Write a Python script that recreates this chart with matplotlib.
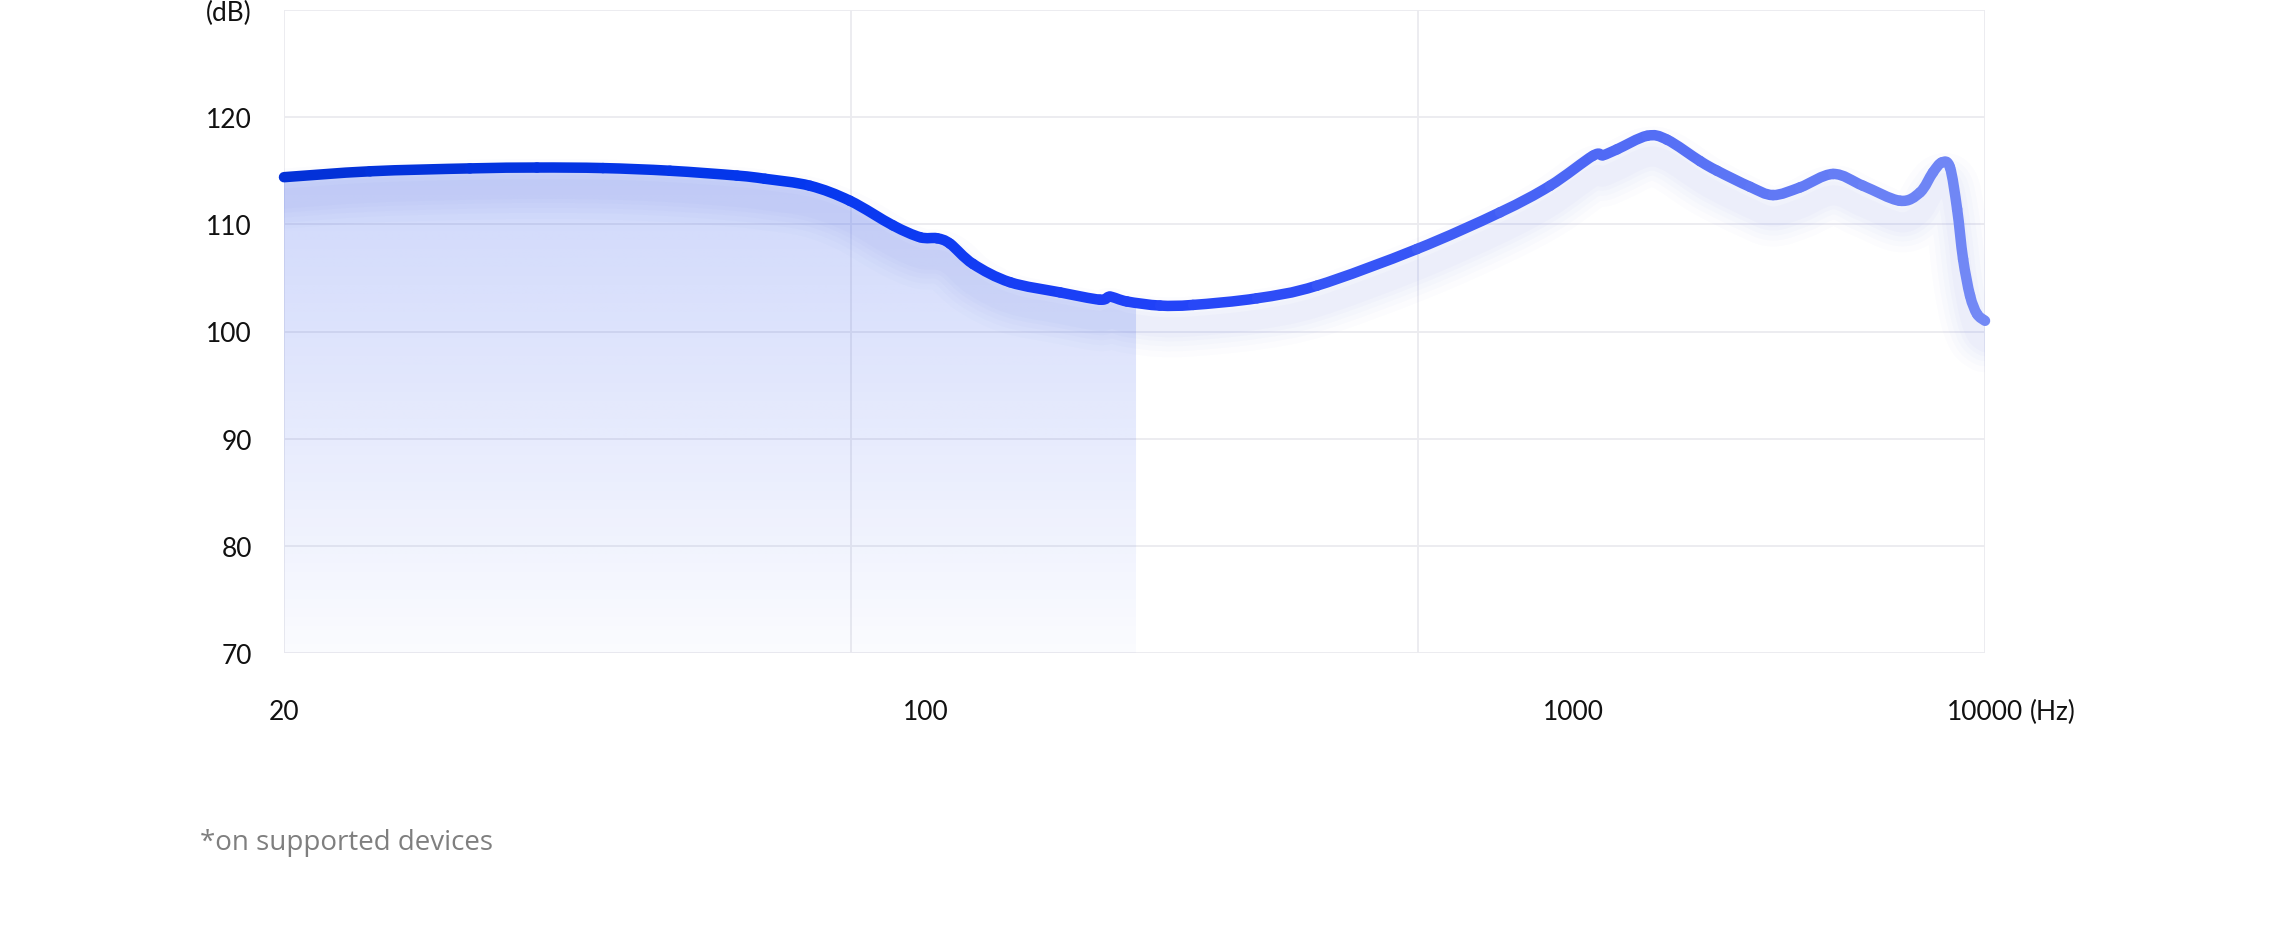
import numpy as np
import matplotlib
matplotlib.use("Agg")
import matplotlib.pyplot as plt
from matplotlib.collections import PathCollection
from matplotlib.colors import LinearSegmentedColormap, to_rgb
from matplotlib.patches import PathPatch
from matplotlib.path import Path

# ---------------- data ----------------
x_tick_positions = [0.0, 0.3774, 0.7578, 1.0]
x_tick_labels = ["20", "100", "1000", "10000"]
x_unit = "(Hz)"
y_ticks = [70, 80, 90, 100, 110, 120, 130]
y_tick_labels = ["70", "80", "90", "100", "110", "120", "(dB)"]

curve_pos = [0.000, 0.0506, 0.1093, 0.1487, 0.1875, 0.2269, 0.2663, 0.2828,
             0.3092, 0.3327, 0.3580, 0.3739, 0.3839, 0.3915, 0.4051, 0.4268,
             0.4562, 0.4797, 0.4856, 0.4956, 0.5150, 0.5344, 0.5720, 0.6073,
             0.6661, 0.7149, 0.7443, 0.7695, 0.7754, 0.7837, 0.8013, 0.8131,
             0.8325, 0.8425, 0.8619, 0.8754, 0.8913, 0.9107, 0.9283, 0.9500,
             0.9618, 0.9694, 0.9747, 0.9794, 0.9836, 0.9871, 0.9912, 0.9953,
             1.0000]
curve_db = [114.4, 114.95, 115.22, 115.3, 115.25, 115.0, 114.55, 114.25,
            113.6, 112.2, 109.9, 108.8, 108.7, 108.2, 106.3, 104.6,
            103.65, 102.97, 103.25, 102.8, 102.42, 102.48, 103.1, 104.28,
            107.7, 111.12, 113.6, 116.4, 116.45, 117.0, 118.26, 117.9,
            115.9, 115.0, 113.5, 112.73, 113.45, 114.7, 113.6, 112.2,
            112.98, 114.85, 115.78, 115.31, 111.43, 106.77, 103.35, 101.64,
            101.0]
shaded_until = 0.5009

footnote = "*on supported devices"

# ---------------- style ----------------
plt.rcParams['font.family'] = ['Lato', 'DejaVu Sans']
W, H, DPI = 2280, 928, 100
fig = plt.figure(figsize=(W / DPI, H / DPI), dpi=DPI)
fig.patch.set_facecolor('white')
ax = fig.add_axes([284 / W, 1 - 654 / H, (1985 - 284) / W, (654 - 11) / H])
ax.set_xlim(0, 1)
ax.set_ylim(70, 130)
for s in ax.spines.values():
    s.set_visible(False)

grid_color = '#ebebef'
for yv in y_ticks:
    ax.axhline(yv, color=grid_color, lw=1.3, zorder=1)
for xv in [0, 1 / 3, 2 / 3, 1]:
    ax.axvline(xv, color=grid_color, lw=1.3, zorder=1)

x = np.array(curve_pos)
y = np.array(curve_db)
P = np.column_stack([x, y])
n = len(P)


def seg_ctrl(i, pts):
    """Catmull-Rom tangents -> cubic Bezier control points for segment i."""
    p0 = pts[max(i - 1, 0)]
    p1 = pts[i]
    p2 = pts[i + 1]
    p3 = pts[min(i + 2, len(pts) - 1)]
    return p1, p1 + (p2 - p0) / 6.0, p2 - (p3 - p1) / 6.0, p2


def smooth_path(pts, upto=None, dy=0.0):
    last = len(pts) - 1 if upto is None else upto
    verts = [pts[0] + [0, dy]]
    codes = [Path.MOVETO]
    for i in range(last):
        a, b, c, d = seg_ctrl(i, pts)
        verts += [b + [0, dy], c + [0, dy], d + [0, dy]]
        codes += [Path.CURVE4] * 3
    return verts, codes


# gradient fill under the left part of the curve
last_in = int(np.where(x <= shaded_until)[0][-1])
edge_val = np.interp(shaded_until, x, y)
v, c = smooth_path(P, upto=last_in)
v += [np.array([shaded_until, edge_val]), np.array([shaded_until, 70.0]),
      np.array([0.0, 70.0]), np.array([0.0, 70.0])]
c += [Path.LINETO, Path.LINETO, Path.LINETO, Path.CLOSEPOLY]
clip_path = PathPatch(Path(np.array(v), c), facecolor='none', edgecolor='none',
                      transform=ax.transData)
ax.add_patch(clip_path)
ny = 400
ys = np.linspace(70, 118, ny)
alpha = np.clip(0.02 + 0.21 * (ys - 70) / 45, 0, 0.24)
rgba = np.zeros((ny, 2, 4))
rgba[..., :3] = to_rgb('#2a50ee')
rgba[..., 3] = alpha[:, None]
im = ax.imshow(rgba, extent=[0, shaded_until, 70, 118], origin='lower',
               aspect='auto', interpolation='bilinear', zorder=2)
im.set_clip_path(clip_path)

# soft glow below the curve
px = 0.72
gv, gc = smooth_path(P, dy=-2.0)
glow_path = Path(np.array(gv), gc)
for w, a in [(60, 0.016), (48, 0.018), (38, 0.02), (28, 0.022), (20, 0.024)]:
    ax.add_patch(PathPatch(glow_path, facecolor='none', edgecolor='#4f6cf4',
                           lw=w * px, alpha=a, capstyle='round',
                           joinstyle='round', zorder=3))

# main curve with colour gradient (smooth Bezier segments)
cmap = LinearSegmentedColormap.from_list(
    'fr', [(0.0, '#0331d6'), (0.30, '#0437ee'), (0.50, '#1e40f7'),
           (0.75, '#4b66f5'), (1.0, '#7389f5')])
paths = []
for i in range(n - 1):
    a, b, cc, d = seg_ctrl(i, P)
    paths.append(Path(np.array([a, b, cc, d]),
                      [Path.MOVETO, Path.CURVE4, Path.CURVE4, Path.CURVE4]))
mid = (x[:-1] + x[1:]) / 2
pc = PathCollection(paths, facecolors='none', edgecolors=cmap(mid),
                    linewidths=10.5 * px, capstyle='round', joinstyle='round',
                    transform=ax.transData, zorder=5)
pc.set_clip_on(False)
ax.add_collection(pc)

# ticks
ax.set_yticks(y_ticks)
ax.set_yticklabels(y_tick_labels)
ax.set_xticks(x_tick_positions)
ax.set_xticklabels(x_tick_labels)
ax.tick_params(axis='both', length=0, labelsize=19, colors='#111111')
ax.tick_params(axis='y', pad=23)
ax.tick_params(axis='x', pad=33)

fig.canvas.draw()
last = ax.get_xticklabels()[-1]
bb = last.get_window_extent()
fig.text((bb.x1 + 7) / W, (bb.y0 + bb.y1) / 2 / H, x_unit, ha='left', va='center',
         fontsize=19, color='#111111')

fig.text(200 / W, 1 - 850 / H, footnote, ha='left', va='baseline',
         fontsize=20, color='#7f7f7f', family=['Open Sans', 'DejaVu Sans'])

fig.savefig('out.png', dpi=DPI, facecolor='white')
